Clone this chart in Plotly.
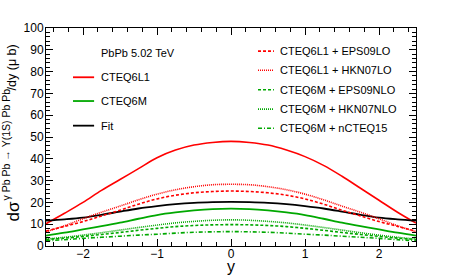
import plotly.graph_objects as go

# ---- data ----
rap = [-2.5, -2.25, -2.0, -1.75, -1.5, -1.25, -1.0, -0.75, -0.5, -0.25, 0.0,
       0.25, 0.5, 0.75, 1.0, 1.25, 1.5, 1.75, 2.0, 2.25, 2.5]

cteq6l1 = [10.2, 15.0, 20.0, 25.5, 30.5, 35.5, 40.5, 44.0, 46.3, 47.5, 48.0,
           47.5, 46.3, 44.0, 41.0, 37.0, 32.0, 26.5, 21.0, 15.5, 10.5]
cteq6m = [4.8, 6.1, 7.6, 9.1, 10.7, 12.5, 14.2, 15.4, 16.3, 16.9, 17.1,
          16.9, 16.3, 15.4, 14.2, 12.5, 10.7, 9.1, 7.6, 6.1, 4.8]
fit = [11.6, 12.2, 13.0, 14.3, 15.8, 17.2, 18.3, 19.2, 19.8, 20.1, 20.2,
       20.1, 19.8, 19.2, 18.3, 17.2, 15.8, 14.3, 13.0, 12.2, 11.6]
l1_eps09lo = [6.8, 9.0, 11.2, 13.8, 16.4, 19.2, 21.6, 23.3, 24.4, 25.0, 25.2,
              25.0, 24.4, 23.3, 21.6, 19.2, 16.4, 13.8, 11.2, 9.0, 6.8]
l1_hkn07lo = [6.5, 9.3, 12.5, 15.5, 18.3, 21.2, 23.8, 25.8, 27.2, 28.1, 28.3,
              28.1, 27.2, 25.8, 23.8, 21.2, 18.3, 15.5, 12.5, 9.3, 6.5]
m_eps09nlo = [3.0, 3.6, 4.4, 5.3, 6.2, 7.2, 8.1, 8.9, 9.4, 9.7, 9.8,
              9.7, 9.4, 8.9, 8.1, 7.2, 6.2, 5.3, 4.4, 3.6, 3.0]
m_hkn07nlo = [3.2, 4.0, 5.0, 6.1, 7.3, 8.5, 9.6, 10.6, 11.3, 11.8, 12.0,
              11.8, 11.3, 10.6, 9.6, 8.5, 7.3, 6.1, 5.0, 4.0, 3.2]
m_ncteq15 = [2.4, 2.9, 3.5, 4.0, 4.5, 5.0, 5.4, 5.9, 6.3, 6.5, 6.6,
             6.5, 6.3, 5.9, 5.4, 5.0, 4.5, 4.0, 3.5, 2.9, 2.4]

RED = "#ff0000"
GREEN = "#00a800"
BLACK = "#000000"
DASH = "3px,2px"
DOT = "1px,1px"
DASHDOT = "4px,2px,1px,2px"

series = [
    ("CTEQ6L1", cteq6l1, RED, "solid", 1.6),
    ("CTEQ6M", cteq6m, GREEN, "solid", 1.8),
    ("Fit", fit, BLACK, "solid", 1.8),
    ("CTEQ6L1 + EPS09LO", l1_eps09lo, RED, DASH, 1.6),
    ("CTEQ6L1 + HKN07LO", l1_hkn07lo, RED, DOT, 1.6),
    ("CTEQ6M + EPS09NLO", m_eps09nlo, GREEN, DASH, 1.6),
    ("CTEQ6M + HKN07NLO", m_hkn07nlo, GREEN, DOT, 1.6),
    ("CTEQ6M + nCTEQ15", m_ncteq15, GREEN, DASHDOT, 1.6),
]

fig = go.Figure()
for name, vals, col, dash, w in series:
    fig.add_trace(go.Scatter(x=rap, y=vals, mode="lines", name=name,
                             line=dict(color=col, dash=dash, width=w, shape="spline"),
                             showlegend=False))

FONT = "Liberation Sans, Arial, Helvetica, sans-serif"

# legend drawn with shapes + annotations
left_rows = [("CTEQ6L1", RED, "solid", 0.774), ("CTEQ6M", GREEN, "solid", 0.665),
             ("Fit", BLACK, "solid", 0.552)]
right_rows = [("CTEQ6L1 + EPS09LO", RED, DASH, 0.894),
              ("CTEQ6L1 + HKN07LO", RED, DOT, 0.806),
              ("CTEQ6M + EPS09NLO", GREEN, DASH, 0.717),
              ("CTEQ6M + HKN07NLO", GREEN, DOT, 0.628),
              ("CTEQ6M + nCTEQ15", GREEN, DASHDOT, 0.540)]

shapes = []
annotations = []
annotations.append(dict(x=0.144, y=0.885, xref="paper", yref="paper", text="PbPb 5.02 TeV",
                        showarrow=False, xanchor="left", yanchor="middle",
                        font=dict(size=11, color="black", family=FONT)))
for txt, col, dash, yy in left_rows:
    shapes.append(dict(type="line", xref="paper", yref="paper", x0=0.073, x1=0.130, y0=yy, y1=yy,
                       line=dict(color=col, width=1.8, dash=dash)))
    annotations.append(dict(x=0.144, y=yy, xref="paper", yref="paper", text=txt, showarrow=False,
                            xanchor="left", yanchor="middle",
                            font=dict(size=11, color="black", family=FONT)))
for txt, col, dash, yy in right_rows:
    shapes.append(dict(type="line", xref="paper", yref="paper", x0=0.573, x1=0.616, y0=yy, y1=yy,
                       line=dict(color=col, width=1.6, dash=dash)))
    annotations.append(dict(x=0.628, y=yy, xref="paper", yref="paper", text=txt, showarrow=False,
                            xanchor="left", yanchor="middle",
                            font=dict(size=11, color="black", family=FONT)))

# y-axis title in three pieces (rotated)
annotations.append(dict(x=-0.0865, y=0.158, xref="paper", yref="paper", textangle=-90,
                        text="dσ", showarrow=False, xanchor="center", yanchor="middle",
                        font=dict(size=17, color="black", family=FONT)))
annotations.append(dict(x=-0.107, y=0.468, xref="paper", yref="paper", textangle=-90,
                        text="γ Pb Pb → Υ(1S) Pb Pb", showarrow=False,
                        xanchor="center", yanchor="middle",
                        font=dict(size=10.5, color="black", family=FONT)))
annotations.append(dict(x=-0.092, y=0.819, xref="paper", yref="paper", textangle=-90,
                        text="/dy (μ b)", showarrow=False, xanchor="center", yanchor="middle",
                        font=dict(size=12.5, color="black", family=FONT)))
# x-axis title
annotations.append(dict(x=0.0, y=-0.095, xref="x", yref="paper", text="y", showarrow=False,
                        xanchor="center", yanchor="middle",
                        font=dict(size=16, color="black", family=FONT)))

axis_common = dict(showgrid=False, zeroline=False, showline=True, linecolor="black", linewidth=1,
                   mirror="allticks", ticks="inside", tickcolor="black", tickwidth=1,
                   tickfont=dict(size=12, color="black", family=FONT))

fig.update_layout(
    width=463, height=275,
    margin=dict(l=46, r=47, t=28, b=29),
    paper_bgcolor="white", plot_bgcolor="white",
    shapes=shapes, annotations=annotations,
    xaxis=dict(range=[-2.5, 2.5], dtick=1, tick0=0, ticklen=7, ticklabelstandoff=-3,
               minor=dict(dtick=0.2, tick0=0, ticklen=4, ticks="inside", tickcolor="black"),
               **axis_common),
    yaxis=dict(range=[0, 100], dtick=10, tick0=0, ticklen=7, ticklabelstandoff=-1,
               minor=dict(dtick=2, tick0=0, ticklen=4, ticks="inside", tickcolor="black"),
               **axis_common),
)

fig.write_html("out.html", config={"displayModeBar": False},
               post_script="document.body.style.margin='0';document.body.style.padding='0';")
